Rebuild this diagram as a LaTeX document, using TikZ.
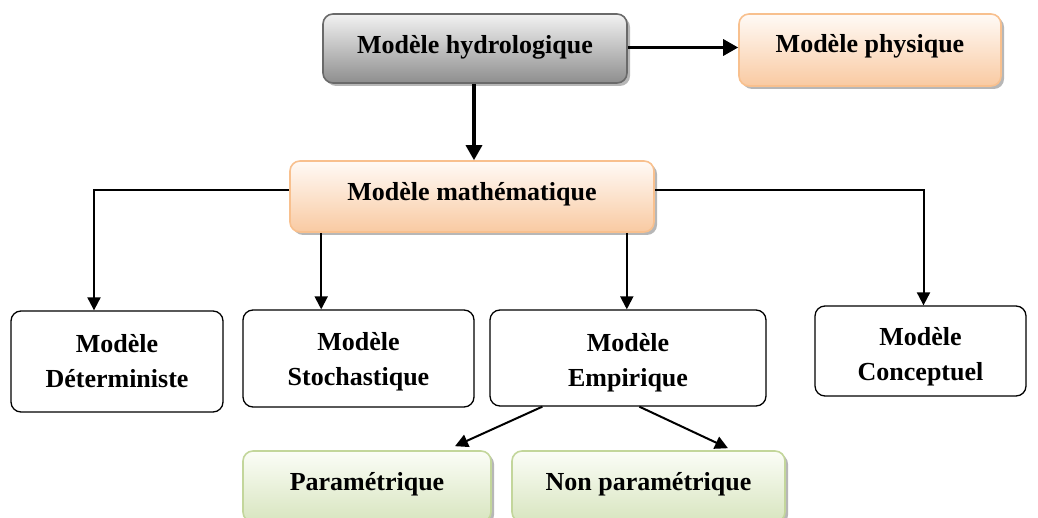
\documentclass[tikz,border=0pt]{standalone}
\usepackage{fontspec}
\setmainfont{Liberation Serif}
\usetikzlibrary{arrows.meta,shadows,calc}
\definecolor{grayTop}{HTML}{F2F2F2}
\definecolor{grayBot}{HTML}{8E8E8E}
\definecolor{grayLine}{HTML}{6A6A6A}
\definecolor{orTop}{HTML}{FFFAF6}
\definecolor{orBot}{HTML}{F9CAA2}
\definecolor{orLine}{HTML}{F8C08E}
\definecolor{grTop}{HTML}{FBFDF7}
\definecolor{grBot}{HTML}{D8E5BF}
\definecolor{grLine}{HTML}{C3D69B}
\tikzset{
  txt/.style={align=center, inner sep=0pt, font=\fontsize{26}{35}\selectfont\bfseries, text=black},
  box/.style={rounded corners=10pt, inner sep=0pt},
  % box caption, moved vertically by #1
  cap/.style 2 args={label={[txt, yshift=#1]center:#2}},
  shade/.style={drop shadow={shadow xshift=3pt, shadow yshift=-3pt, fill=black!40, opacity=0.7}},
  grayBox/.style={box, shade, draw=grayLine, line width=1.6pt, top color=grayTop, bottom color=grayBot},
  orangeBox/.style={box, shade, draw=orLine, line width=1.6pt, top color=orTop, bottom color=orBot},
  greenBox/.style={box, shade, draw=grLine, line width=1.6pt, top color=grTop, bottom color=grBot},
  plainBox/.style={box, draw=black, line width=1.3pt, fill=white},
  thickArrow/.style={line width=3.2pt, -{Triangle[length=15pt,width=16pt]}},
  thinArrow/.style={line width=2pt, -{Triangle[length=13pt,width=13pt]}},
}
\begin{document}
\begin{tikzpicture}[x=1pt,y=-1pt]
\useasboundingbox (0,0) rectangle (1038,518);
\begin{scope}
\clip (0,0) rectangle (1038,518);
% top row
\node[grayBox, minimum width=304pt, minimum height=69pt, cap={1pt}{Modèle hydrologique}] (hyd) at (475,48.5) {};
\node[orangeBox, minimum width=262pt, minimum height=72pt, cap={3.5pt}{Modèle physique}] (phy) at (870,50) {};
% middle
\node[orangeBox, minimum width=364pt, minimum height=71pt, cap={2pt}{Modèle mathématique}] (math) at (472,196.5) {};
% model families
\node[plainBox, minimum width=212pt, minimum height=101pt, cap={0pt}{Modèle\\Déterministe}] (det) at (117,361.5) {};
\node[plainBox, minimum width=231pt, minimum height=97pt, cap={-3.5pt}{Modèle\\Stochastique}] (sto) at (358.5,358.5) {};
\node[plainBox, minimum width=276pt, minimum height=96pt, cap={-5pt}{Modèle\\Empirique}] (emp) at (628,358) {};
\node[plainBox, minimum width=211pt, minimum height=90pt, cap={-6pt}{Modèle\\Conceptuel}] (con) at (920.5,351) {};
% empirical sub-types
\node[greenBox, minimum width=248pt, minimum height=71pt, cap={2pt}{Paramétrique}] (par) at (367,486.5) {};
\node[greenBox, minimum width=273pt, minimum height=71pt, cap={2pt}{Non paramétrique}] (npar) at (648.5,486.5) {};
\end{scope}
% connectors
\draw[thickArrow] ([yshift=1pt]hyd.east) -- ([yshift=1pt]hyd.east -| phy.west);
\draw[thickArrow] ([xshift=-1pt]hyd.south) -- ([xshift=-1pt]hyd.south |- math.north);
\draw[thinArrow] ([yshift=6.5pt]math.west) -| ([xshift=-23pt]det.north);
\draw[thinArrow] ([yshift=6.5pt]math.east) -| ([xshift=3pt]con.north);
\coordinate (mS) at ($(math.south west)+(32,0)$);
\coordinate (mE) at ($(math.south east)+(-28,0)$);
\draw[thinArrow] (mS) -- (mS |- sto.north);
\draw[thinArrow] (mE) -- (mE |- emp.north);
\coordinate (eL) at ($(emp.south west)+(53,0)$);
\coordinate (eR) at ($(emp.south west)+(150,0)$);
\draw[thinArrow] (eL) -- ($(par.north)+(88,-4)$);
\draw[thinArrow] (eR) -- ($(npar.north)+(79.5,-2)$);
\end{tikzpicture}
\end{document}
